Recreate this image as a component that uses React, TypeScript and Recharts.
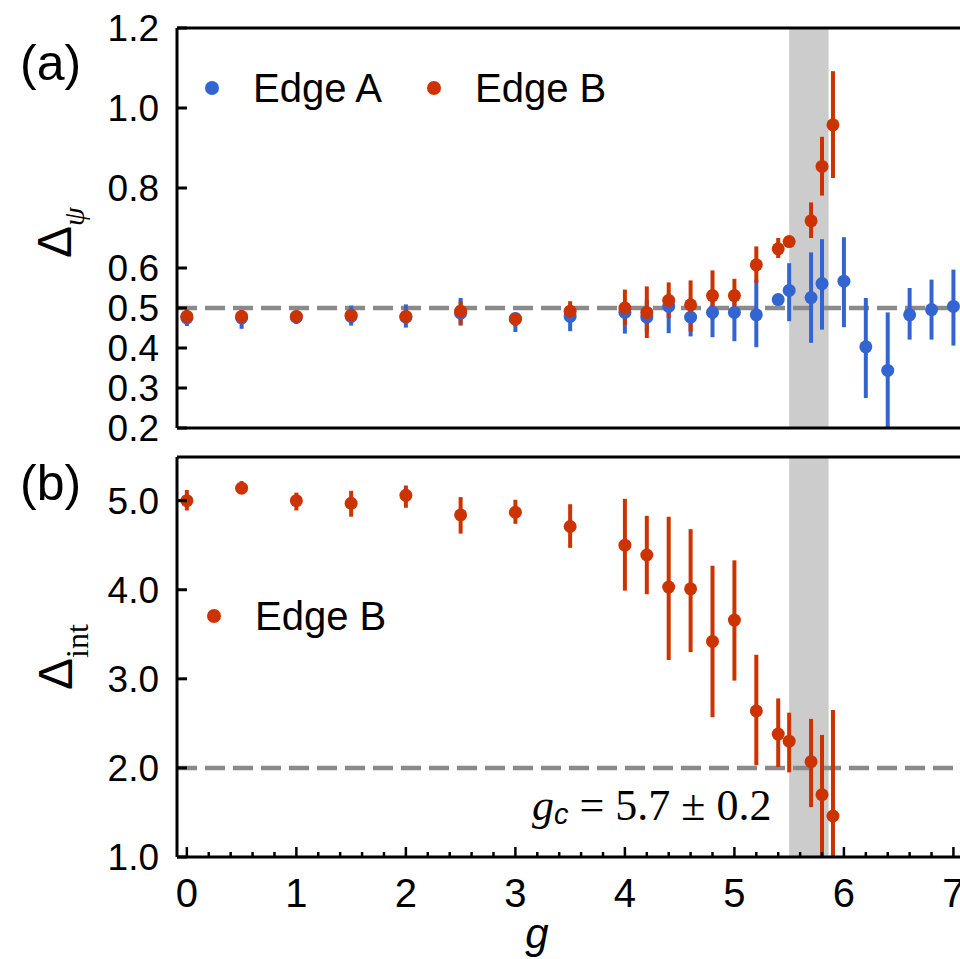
import React from "react";
import {
  ScatterChart,
  Scatter,
  XAxis,
  YAxis,
  ErrorBar,
  ReferenceLine,
  ReferenceArea,
  Legend,
} from "recharts";

// coupling g for each edge
const gA = [0, 0.5, 1, 1.5, 2, 2.5, 3, 3.5, 4, 4.2, 4.4, 4.6, 4.8, 5, 5.2, 5.4, 5.5, 5.7, 5.8, 6, 6.2, 6.4, 6.6, 6.8, 7];
const gB = [0, 0.5, 1, 1.5, 2, 2.5, 3, 3.5, 4, 4.2, 4.4, 4.6, 4.8, 5, 5.2, 5.4, 5.5, 5.7, 5.8, 5.9];

// (a) Delta_psi, edge A (blue)
const psiA = [0.475, 0.475, 0.477, 0.479, 0.477, 0.487, 0.474, 0.479, 0.489, 0.477, 0.504, 0.477, 0.489, 0.489, 0.483, 0.521, 0.544, 0.526, 0.561, 0.567, 0.403, 0.344, 0.483, 0.496, 0.504];
const psiALo = [0.455, 0.448, 0.46, 0.456, 0.451, 0.456, 0.44, 0.442, 0.436, 0.44, 0.437, 0.429, 0.427, 0.417, 0.402, 0.51, 0.467, 0.413, 0.446, 0.452, 0.275, 0.17, 0.421, 0.421, 0.406];
const psiAHi = [0.49, 0.495, 0.49, 0.506, 0.509, 0.525, 0.488, 0.508, 0.513, 0.52, 0.537, 0.5, 0.529, 0.533, 0.571, 0.53, 0.612, 0.639, 0.672, 0.677, 0.525, 0.489, 0.55, 0.571, 0.596];

// (a) Delta_psi, edge B (red)
const psiB = [0.479, 0.479, 0.479, 0.482, 0.479, 0.492, 0.472, 0.492, 0.5, 0.489, 0.519, 0.508, 0.531, 0.531, 0.608, 0.648, 0.666, 0.718, 0.854, 0.958];
const psiBLo = [0.463, 0.465, 0.465, 0.468, 0.465, 0.458, 0.456, 0.471, 0.458, 0.425, 0.475, 0.441, 0.471, 0.496, 0.563, 0.625, 0.656, 0.675, 0.781, 0.825];
const psiBHi = [0.496, 0.494, 0.494, 0.497, 0.494, 0.517, 0.488, 0.517, 0.546, 0.554, 0.564, 0.569, 0.594, 0.573, 0.654, 0.675, 0.676, 0.764, 0.928, 1.092];

// (b) Delta_int, edge B (red)
const intB = [5.0, 5.14, 5.0, 4.97, 5.06, 4.84, 4.87, 4.71, 4.5, 4.39, 4.03, 4.01, 3.42, 3.66, 2.64, 2.38, 2.3, 2.07, 1.7, 1.46];
const intBLo = [4.89, 5.08, 4.89, 4.82, 4.92, 4.63, 4.74, 4.47, 3.99, 3.95, 3.21, 3.3, 2.57, 2.98, 2.03, 2.01, 1.95, 1.56, 0.85, 0.74];
const intBHi = [5.12, 5.22, 5.09, 5.11, 5.17, 5.04, 5.01, 4.96, 5.02, 4.83, 4.82, 4.68, 4.27, 4.33, 3.27, 2.78, 2.62, 2.55, 2.37, 2.65];

const psiTicks = [0.2, 0.3, 0.4, 0.5, 0.6, 0.8, 1.0, 1.2];
const intTicks = [1, 2, 3, 4, 5];
const gTicks = [
  0, 0.2, 0.4, 0.6, 0.8, 1, 1.2, 1.4, 1.6, 1.8, 2, 2.2, 2.4, 2.6, 2.8, 3, 3.2, 3.4, 3.6, 3.8,
  4, 4.2, 4.4, 4.6, 4.8, 5, 5.2, 5.4, 5.6, 5.8, 6, 6.2, 6.4, 6.6, 6.8, 7,
];

const gcBand = [5.5, 5.86];

const BLUE = "#3264d2";
const RED = "#cc3300";
const DASH = "#8a8a8a";
const SANS = "'Liberation Sans', Arial, Helvetica, sans-serif";
const SERIF = "'Liberation Serif', 'Times New Roman', serif";

const gDomain = [-0.09, 7.06];
const psiDomain = [0.2, 1.2];
const intDomain = [1, 5.49];
const Y_LABEL_GAP = 18;

// error bars are cut at the bottom of the frame, like the plot does
const build = (g: number[], v: number[], lo: number[], hi: number[], floor: number) =>
  g.map((x, i) => ({ g: x, v: v[i], err: [v[i] - Math.max(lo[i], floor), hi[i] - v[i]] }));

const dataA = build(gA, psiA, psiALo, psiAHi, psiDomain[0]);
const dataB = build(gB, psiB, psiBLo, psiBHi, psiDomain[0]);
const dataInt = build(gB, intB, intBLo, intBHi, intDomain[0]);

const dot = (color: string) => (p: any) => <circle cx={p.cx} cy={p.cy} r={6.5} fill={color} />;

const YTick = ({ x, y, payload }: any) => {
  const ax = x + Y_LABEL_GAP;
  return (
    <g>
      <line x1={ax} x2={ax + 10} y1={y} y2={y} stroke="#000" strokeWidth={3} />
      <text x={x} y={y} dy="0.36em" textAnchor="end" fontSize={37} fontFamily={SANS} fill="#000">
        {Number(payload.value).toFixed(1)}
      </text>
    </g>
  );
};

const XTick = ({ x, y, payload }: any) => {
  const v = payload.value;
  const major = Math.abs(v - Math.round(v)) < 1e-6;
  return (
    <g>
      <line x1={x} x2={x} y1={y} y2={y - (major ? 10 : 5)} stroke="#000" strokeWidth={2.5} />
      {major && (
        <text x={x} y={y + 50} textAnchor="middle" fontSize={40} fontFamily={SANS} fill="#000">
          {Math.round(v)}
        </text>
      )}
    </g>
  );
};

const LegendRow = ({ payload }: any) => (
  <div style={{ display: "flex", alignItems: "center", fontFamily: SANS, fontSize: 40, lineHeight: "40px", color: "#000" }}>
    {(payload || []).map((p: any, i: number) => (
      <div key={i} style={{ display: "flex", alignItems: "center", marginRight: 45 }}>
        <span style={{ width: 14, height: 14, borderRadius: 7, background: p.color, marginRight: 34 }} />
        <span>{p.value}</span>
      </div>
    ))}
  </div>
);

export default function App() {
  return (
    <div style={{ position: "absolute", left: 0, top: 0, width: 960, height: 959, background: "#fff", overflow: "hidden" }}>
      <div style={{ position: "absolute", left: 0, top: 0 }}>
        <ScatterChart width={960} height={450} margin={{ top: 28, right: 0, bottom: 0, left: 0 }}>
          <XAxis
            type="number"
            dataKey="g"
            domain={gDomain}
            allowDataOverflow
            height={22}
            tick={false}
            tickLine={false}
            axisLine={{ stroke: "#000", strokeWidth: 3 }}
          />
          <YAxis
            type="number"
            dataKey="v"
            domain={psiDomain}
            allowDataOverflow
            ticks={psiTicks}
            interval={0}
            width={177}
            tickSize={0}
            tickMargin={Y_LABEL_GAP}
            tickLine={false}
            tick={<YTick />}
            axisLine={{ stroke: "#000", strokeWidth: 3 }}
          />
          <ReferenceArea x1={gcBand[0]} x2={gcBand[1]} fill="#cccccc" fillOpacity={1} stroke="none" />
          <ReferenceLine y={0.5} stroke={DASH} strokeWidth={4.5} strokeDasharray="20 8" />
          <ReferenceLine y={1.2} stroke="#000" strokeWidth={3} />
          <Legend
            layout="horizontal"
            verticalAlign="middle"
            align="center"
            wrapperStyle={{ left: 205, top: 68, width: "auto" }}
            content={<LegendRow />}
          />
          <Scatter name="Edge A" data={dataA} fill={BLUE} shape={dot(BLUE)} isAnimationActive={false}>
            <ErrorBar dataKey="err" direction="y" width={0} stroke={BLUE} strokeWidth={4} isAnimationActive={false} />
          </Scatter>
          <Scatter name="Edge B" data={dataB} fill={RED} shape={dot(RED)} isAnimationActive={false}>
            <ErrorBar dataKey="err" direction="y" width={0} stroke={RED} strokeWidth={4} isAnimationActive={false} />
          </Scatter>
        </ScatterChart>
      </div>

      <div style={{ position: "absolute", left: 0, top: 440 }}>
        <ScatterChart width={960} height={519} margin={{ top: 17, right: 0, bottom: 0, left: 0 }}>
          <XAxis
            type="number"
            dataKey="g"
            domain={gDomain}
            allowDataOverflow
            ticks={gTicks}
            interval={0}
            height={102}
            tickSize={0}
            tickMargin={0}
            tickLine={false}
            tick={<XTick />}
            axisLine={{ stroke: "#000", strokeWidth: 3 }}
          />
          <YAxis
            type="number"
            dataKey="v"
            domain={intDomain}
            allowDataOverflow
            ticks={intTicks}
            interval={0}
            width={177}
            tickSize={0}
            tickMargin={Y_LABEL_GAP}
            tickLine={false}
            tick={<YTick />}
            axisLine={{ stroke: "#000", strokeWidth: 3 }}
          />
          <ReferenceArea x1={gcBand[0]} x2={gcBand[1]} fill="#cccccc" fillOpacity={1} stroke="none" />
          <ReferenceLine y={2} stroke={DASH} strokeWidth={4.5} strokeDasharray="20 8" />
          <ReferenceLine y={intDomain[1]} stroke="#000" strokeWidth={3} />
          <Legend
            layout="horizontal"
            verticalAlign="middle"
            align="center"
            wrapperStyle={{ left: 207, top: 156, width: "auto" }}
            content={<LegendRow />}
          />
          <Scatter name="Edge B" data={dataInt} fill={RED} shape={dot(RED)} isAnimationActive={false}>
            <ErrorBar dataKey="err" direction="y" width={0} stroke={RED} strokeWidth={4} isAnimationActive={false} />
          </Scatter>
        </ScatterChart>
      </div>

      <svg width={960} height={959} style={{ position: "absolute", left: 0, top: 0, pointerEvents: "none" }}>
        <text x={20} y={80} fontSize={50} fontFamily={SANS} fill="#000">(a)</text>
        <text x={20} y={500} fontSize={50} fontFamily={SANS} fill="#000">(b)</text>
        <text transform="translate(71,258) rotate(-90)" fontFamily={SANS} fill="#000">
          <tspan fontSize={48}>Δ</tspan>
          <tspan fontSize={30} dy={13} fontFamily={SERIF} fontStyle="italic">ψ</tspan>
        </text>
        <text transform="translate(72,690) rotate(-90)" fontFamily={SANS} fill="#000">
          <tspan fontSize={48}>Δ</tspan>
          <tspan fontSize={32} dy={16} fontFamily={SERIF}>int</tspan>
        </text>
        <text x={532} y={820} fontSize={44} fontFamily={SERIF} fill="#000">
          <tspan fontStyle="italic">g</tspan>
          <tspan fontSize={29} dy={4} fontFamily={SANS} fontStyle="italic">c</tspan>
          <tspan dy={-4}> = 5.7 ± 0.2</tspan>
        </text>
        <text x={537} y={948} textAnchor="middle" fontSize={42} fontFamily={SANS} fontStyle="italic" fill="#000">g</text>
      </svg>
    </div>
  );
}
